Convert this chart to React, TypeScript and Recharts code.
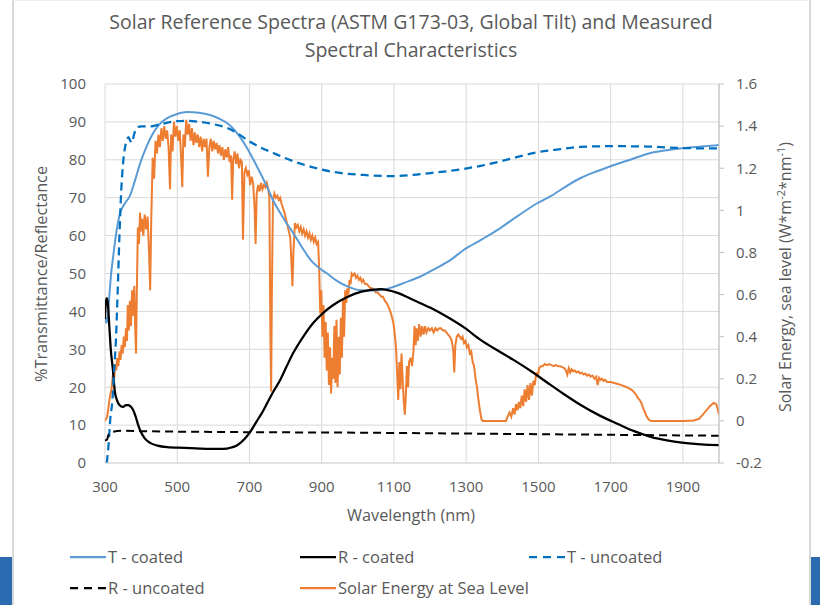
import React from "react";
import { LineChart, Line, XAxis, YAxis, CartesianGrid } from "recharts";

// [wavelength nm, %]
const tCoated: [number, number][] = [
  [300, 39], [303, 37], [307, 38], [312, 44], [317, 50], [322, 54], [330, 60], [342, 66],
  [355, 68.5], [369, 70.5], [383, 74.5], [397, 79], [415, 83.5], [433, 87], [450, 89.3],
  [472, 91], [500, 92.1], [527, 92.6], [560, 92.4], [591, 91.8], [615, 90.9], [638, 89.7],
  [655, 88.2], [674, 86], [692, 83.3], [711, 80], [730, 76.5], [749, 72.8], [767, 69],
  [785, 66], [803, 63.2], [821, 60.7], [845, 57], [869, 53.6], [892, 51.5], [915, 50],
  [940, 48.2], [971, 46.6], [1007, 45.6], [1050, 45.5], [1090, 46.2], [1130, 47.6],
  [1173, 49.2], [1215, 51.3], [1257, 53.6], [1293, 56.2], [1340, 58.8], [1387, 61.5],
  [1440, 65], [1498, 68.6], [1534, 70.4], [1580, 73.2], [1617, 75.2], [1660, 76.9],
  [1700, 78.3], [1750, 79.9], [1811, 81.8], [1860, 82.6], [1903, 83.1], [1950, 83.5], [2000, 83.9],
];

const rCoated: [number, number][] = [
  [300, 38], [302, 42], [305, 43.5], [308, 42], [312, 36], [316, 30], [322, 24.5], [327, 19],
  [333, 16.6], [340, 15.3], [350, 14.8], [358, 15.3], [364, 15.3], [370, 15], [378, 14],
  [385, 12.2], [392, 10], [397, 8.7], [410, 6.5], [425, 5.3], [445, 4.6], [472, 4.2],
  [520, 4], [563, 3.8], [600, 3.7], [627, 3.7], [650, 4.1], [666, 4.7], [685, 6.2],
  [702, 8.2], [720, 11], [735, 13.3], [749, 15.8], [767, 19], [785, 21.9], [803, 25.5],
  [821, 29], [850, 33.5], [877, 37], [905, 39.7], [932, 41.7], [971, 43.8], [1010, 45.2],
  [1063, 45.9], [1110, 44.9], [1154, 43], [1200, 41], [1248, 38.5], [1295, 35.7],
  [1340, 32.5], [1385, 29.8], [1431, 27.2], [1480, 24.2], [1526, 21.1], [1570, 18.2],
  [1617, 15.3], [1670, 12.5], [1720, 10.3], [1765, 8.4], [1811, 6.9], [1860, 5.9],
  [1903, 5.3], [1950, 4.9], [2000, 4.7],
];

const tUncoated: [number, number][] = [
  [305, 0], [310, 5], [315, 12], [320, 16], [325, 24], [330, 32], [335, 45], [340, 60],
  [345, 72], [350, 79], [355, 83], [360, 85], [365, 86], [370, 85], [375, 84.5], [380, 86.5],
  [388, 88.4], [400, 88.8], [425, 88.8], [450, 89.3], [500, 90.2], [530, 90.3], [563, 90],
  [600, 89.4], [638, 88.4], [670, 86.8], [694, 85.2], [730, 83.3], [766, 81.8], [800, 80.4],
  [841, 79], [880, 77.9], [932, 76.8], [1016, 76], [1099, 75.7], [1150, 76], [1201, 76.5],
  [1293, 77.6], [1340, 78.4], [1387, 79.4], [1440, 80.7], [1498, 82], [1560, 82.8],
  [1617, 83.4], [1700, 83.6], [1800, 83.5], [1903, 83.1], [2000, 83],
];

const rUncoated: [number, number][] = [
  [300, 6], [305, 6.1], [310, 7.5], [320, 8.2], [350, 8.5], [400, 8.4], [600, 8.2],
  [1000, 8], [1500, 7.6], [2000, 7.2],
];

// [wavelength nm, W*m^-2*nm^-1]
const solar: [number, number][] = [
  [300, 0], [306, 0.02], [310, 0.07], [314, 0.12], [318, 0.15], [322, 0.22], [325, 0.19],
  [328, 0.27], [331, 0.24], [334, 0.3], [337, 0.26], [340, 0.33], [343, 0.29], [346, 0.36],
  [349, 0.32], [352, 0.4], [355, 0.35], [358, 0.44], [361, 0.38], [363, 0.55], [366, 0.43],
  [369, 0.57], [372, 0.45], [375, 0.62], [378, 0.5], [381, 0.64], [384, 0.42], [386, 0.32],
  [388, 0.6], [391, 0.92], [394, 0.84], [397, 0.99], [400, 0.9], [403, 0.96], [406, 0.88],
  [410, 0.98], [414, 0.91], [418, 0.97], [422, 0.8], [425, 0.62], [428, 0.95], [432, 1.25],
  [436, 1.15], [440, 1.33], [444, 1.27], [448, 1.36], [452, 1.3], [456, 1.39], [460, 1.33],
  [464, 1.4], [468, 1.34], [472, 1.38], [476, 1.3], [480, 1.1], [483, 1.36], [487, 1.28],
  [491, 1.42], [495, 1.35], [499, 1.4], [503, 1.33], [507, 1.38], [511, 1.24], [514, 1.11],
  [517, 1.36], [521, 1.3], [525, 1.43], [529, 1.36], [533, 1.41], [537, 1.33], [541, 1.39],
  [545, 1.31], [549, 1.37], [553, 1.32], [557, 1.36], [561, 1.3], [565, 1.35], [569, 1.28],
  [573, 1.34], [577, 1.3], [581, 1.34], [585, 1.16], [589, 1.3], [593, 1.34], [597, 1.28],
  [601, 1.33], [605, 1.29], [609, 1.32], [613, 1.27], [617, 1.31], [621, 1.26], [625, 1.3],
  [629, 1.24], [633, 1.29], [637, 1.25], [641, 1.3], [645, 1.23], [649, 1.26], [652, 1.05],
  [655, 1.24], [659, 1.28], [663, 1.22], [667, 1.27], [671, 1.2], [675, 1.24], [679, 1.23],
  [682, 0.86], [686, 1.18], [690, 1.2], [694, 1.17], [698, 1.19], [702, 1.12], [706, 1.16],
  [710, 1.13], [714, 1.02], [717, 0.84], [720, 1.08], [724, 1.12], [728, 1.09], [732, 1.13],
  [736, 1.1], [740, 1.12], [744, 1.11], [748, 1.13], [752, 1.1], [755, 1.06], [758, 0.4],
  [760, 0.14], [762, 0.6], [765, 1.05], [769, 1.08], [773, 1.06], [777, 1.07], [781, 1.05],
  [785, 1.06], [789, 1.03], [793, 1.01], [797, 0.99], [801, 0.96], [805, 0.93], [809, 0.9],
  [813, 0.87], [816, 0.76], [819, 0.64], [822, 0.82], [826, 0.94], [830, 0.92], [834, 0.93],
  [838, 0.9], [842, 0.92], [846, 0.89], [850, 0.91], [854, 0.88], [858, 0.9], [862, 0.87],
  [866, 0.89], [870, 0.86], [874, 0.88], [878, 0.85], [882, 0.87], [886, 0.84], [890, 0.85],
  [893, 0.72], [896, 0.51], [899, 0.62], [902, 0.4], [905, 0.55], [908, 0.3], [911, 0.47],
  [914, 0.24], [917, 0.42], [920, 0.17], [923, 0.35], [926, 0.13], [929, 0.3], [932, 0.2],
  [935, 0.45], [938, 0.18], [941, 0.48], [944, 0.16], [947, 0.4], [950, 0.22], [953, 0.49],
  [956, 0.3], [959, 0.58], [962, 0.4], [965, 0.62], [968, 0.56], [971, 0.63], [974, 0.6],
  [977, 0.67], [980, 0.65], [983, 0.7], [987, 0.69], [991, 0.7], [995, 0.68], [999, 0.69],
  [1003, 0.67], [1007, 0.68], [1011, 0.66], [1015, 0.67], [1020, 0.65], [1025, 0.65],
  [1030, 0.64], [1035, 0.63], [1040, 0.63], [1045, 0.62], [1050, 0.61], [1055, 0.61],
  [1060, 0.6], [1065, 0.59], [1070, 0.59], [1075, 0.57], [1080, 0.56], [1085, 0.54],
  [1090, 0.52], [1095, 0.49], [1099, 0.46], [1103, 0.4], [1106, 0.34], [1109, 0.22],
  [1112, 0.1], [1115, 0.28], [1118, 0.15], [1121, 0.32], [1124, 0.2], [1127, 0.1],
  [1130, 0.03], [1133, 0.12], [1136, 0.26], [1139, 0.16], [1142, 0.28], [1146, 0.3],
  [1150, 0.26], [1154, 0.33], [1157, 0.45], [1160, 0.36], [1163, 0.44], [1166, 0.38],
  [1170, 0.46], [1174, 0.4], [1178, 0.45], [1182, 0.41], [1186, 0.45], [1190, 0.42],
  [1195, 0.44], [1200, 0.43], [1205, 0.44], [1210, 0.42], [1215, 0.44], [1220, 0.43],
  [1225, 0.44], [1230, 0.44], [1235, 0.43], [1240, 0.43], [1245, 0.42], [1250, 0.41],
  [1255, 0.4], [1260, 0.38], [1264, 0.34], [1267, 0.23], [1270, 0.36], [1274, 0.4],
  [1278, 0.41], [1282, 0.4], [1286, 0.39], [1290, 0.4], [1294, 0.37], [1298, 0.38],
  [1302, 0.35], [1306, 0.36], [1310, 0.32], [1314, 0.33], [1318, 0.28], [1322, 0.26],
  [1326, 0.2], [1330, 0.16], [1334, 0.1], [1338, 0.05], [1342, 0.01], [1346, 0],
  [1380, 0], [1410, 0], [1415, 0.02], [1420, 0.04], [1425, 0.02], [1430, 0.06], [1434, 0.03],
  [1438, 0.08], [1442, 0.05], [1446, 0.09], [1450, 0.06], [1454, 0.12], [1458, 0.07],
  [1462, 0.15], [1466, 0.09], [1470, 0.17], [1474, 0.1], [1478, 0.18], [1482, 0.12],
  [1486, 0.19], [1490, 0.17], [1494, 0.23], [1498, 0.21], [1502, 0.25], [1507, 0.26],
  [1512, 0.26], [1518, 0.27], [1524, 0.265], [1530, 0.27], [1536, 0.265], [1542, 0.26],
  [1548, 0.265], [1554, 0.26], [1560, 0.26], [1566, 0.255], [1572, 0.25], [1576, 0.24],
  [1580, 0.22], [1584, 0.25], [1588, 0.23], [1592, 0.245], [1596, 0.235], [1600, 0.24],
  [1605, 0.23], [1610, 0.235], [1615, 0.225], [1620, 0.23], [1625, 0.22], [1630, 0.225],
  [1635, 0.215], [1640, 0.22], [1645, 0.21], [1650, 0.215], [1655, 0.2], [1660, 0.21],
  [1664, 0.17], [1668, 0.205], [1672, 0.195], [1676, 0.2], [1680, 0.19], [1685, 0.195],
  [1690, 0.185], [1700, 0.185], [1710, 0.18], [1720, 0.175], [1730, 0.17], [1745, 0.16],
  [1760, 0.145], [1770, 0.125], [1775, 0.11], [1780, 0.1], [1785, 0.085], [1790, 0.06],
  [1795, 0.04], [1800, 0.02], [1806, 0.005], [1812, 0], [1850, 0], [1900, 0], [1930, 0.002],
  [1945, 0.01], [1955, 0.03], [1965, 0.05], [1975, 0.07], [1985, 0.085], [1992, 0.08],
  [1996, 0.06], [2000, 0.03],
];

const xTicks = [300, 500, 700, 900, 1100, 1300, 1500, 1700, 1900];
const leftTicks = [0, 10, 20, 30, 40, 50, 60, 70, 80, 90, 100];
const rightTicks = [-0.2, 0, 0.2, 0.4, 0.6, 0.8, 1, 1.2, 1.4, 1.6];

const toRows = (pts: [number, number][]) => pts.map(([x, y]) => ({ x, y }));

const FONT = "'Open Sans', sans-serif";
const TEXT = "#595959";
const GRID = "#d9d9d9";

const legendItems = [
  { name: "T - coated", color: "#5b9bd5", dash: undefined, x: 70, y: 557 },
  { name: "R - coated", color: "#000000", dash: undefined, x: 300, y: 557 },
  { name: "T - uncoated", color: "#0070c0", dash: "8 6", x: 529, y: 557 },
  { name: "R - uncoated", color: "#000000", dash: "8 6", x: 70, y: 588 },
  { name: "Solar Energy at Sea Level", color: "#ed7d31", dash: undefined, x: 300, y: 588 },
];

export default function App() {
  return (
    <div style={{ position: "absolute", left: 0, top: 0, width: 820, height: 605, background: "#fff", overflow: "hidden" }}>
      <div style={{ position: "absolute", left: 0, top: 557, width: 13, height: 48, background: "#2b6cb0" }} />
      <div style={{ position: "absolute", left: 810, top: 557, width: 10, height: 48, background: "#2b6cb0" }} />
      <div style={{ position: "absolute", left: 12, top: 0, width: 795, height: 605, borderLeft: "2px solid #d9d9d9", borderRight: "2px solid #d9d9d9", borderTop: "1px solid #eeeeee", background: "#fff" }} />

      <div style={{ position: "absolute", left: 0, top: 0 }}>
        <LineChart width={820} height={605} margin={{ top: 84, right: 0, bottom: 0, left: 0 }}>
          <CartesianGrid yAxisId="left" stroke={GRID} strokeWidth={1} />
          <XAxis
            dataKey="x"
            type="number"
            domain={[300, 2000]}
            ticks={xTicks}
            allowDataOverflow
            height={142}
            tickLine={false}
            tickSize={0}
            tickMargin={18}
            axisLine={{ stroke: GRID }}
            tick={{ fontSize: 15, fill: TEXT, fontFamily: FONT }}
          />
          <YAxis
            yAxisId="left"
            domain={[0, 100]}
            ticks={leftTicks}
            width={105}
            axisLine={false}
            tickLine={false}
            tickSize={0}
            tickMargin={19}
            tick={{ fontSize: 15, fill: TEXT, fontFamily: FONT }}
          />
          <YAxis
            yAxisId="right"
            orientation="right"
            domain={[-0.2, 1.6]}
            ticks={rightTicks}
            width={101}
            axisLine={{ stroke: "#bfbfbf" }}
            tickLine={{ stroke: "#bfbfbf" }}
            tickSize={5}
            tickMargin={12}
            tickFormatter={(v: number) => String(Math.round(v * 10) / 10)}
            tick={{ fontSize: 15, fill: TEXT, fontFamily: FONT }}
          />
          <Line yAxisId="right" data={toRows(solar)} dataKey="y" type="linear" stroke="#ed7d31" strokeWidth={2} dot={false} isAnimationActive={false} />
          <Line yAxisId="left" data={toRows(tCoated)} dataKey="y" type="monotone" stroke="#5b9bd5" strokeWidth={2} dot={false} isAnimationActive={false} />
          <Line yAxisId="left" data={toRows(rCoated)} dataKey="y" type="monotone" stroke="#000000" strokeWidth={2.25} dot={false} isAnimationActive={false} />
          <Line yAxisId="left" data={toRows(tUncoated)} dataKey="y" type="monotone" stroke="#0070c0" strokeWidth={2.25} strokeDasharray="8 5" dot={false} isAnimationActive={false} />
          <Line yAxisId="left" data={toRows(rUncoated)} dataKey="y" type="monotone" stroke="#000000" strokeWidth={2} strokeDasharray="8 5" dot={false} isAnimationActive={false} />
        </LineChart>
      </div>

      <svg width={820} height={605} style={{ position: "absolute", left: 0, top: 0, pointerEvents: "none" }} fontFamily={FONT}>
        <text x={411} y={29} textAnchor="middle" fontSize={19.5} fill={TEXT}>
          Solar Reference Spectra (ASTM G173-03, Global Tilt) and Measured
        </text>
        <text x={411} y={57} textAnchor="middle" fontSize={19.5} fill={TEXT}>
          Spectral Characteristics
        </text>
        <text x={411} y={521} textAnchor="middle" fontSize={16.3} fill={TEXT}>
          Wavelength (nm)
        </text>
        <text x={47} y={274} textAnchor="middle" fontSize={16.3} fill={TEXT} transform="rotate(-90 47 274)">
          %Transmittance/Reflectance
        </text>
        <text x={791} y={277} textAnchor="middle" fontSize={16} fill={TEXT} transform="rotate(-90 791 277)">
          Solar Energy, sea level (W*m<tspan dy={-6} fontSize={11}>-2</tspan>
          <tspan dy={6}>*nm</tspan>
          <tspan dy={-6} fontSize={11}>-1</tspan>
          <tspan dy={6}>)</tspan>
        </text>
        {legendItems.map((it) => (
          <g key={it.name}>
            <line x1={it.x} x2={it.x + 36} y1={it.y} y2={it.y} stroke={it.color} strokeWidth={2.25} strokeDasharray={it.dash} />
            <text x={it.x + 38} y={it.y + 6} fontSize={16.5} fill={TEXT}>
              {it.name}
            </text>
          </g>
        ))}
      </svg>
    </div>
  );
}
